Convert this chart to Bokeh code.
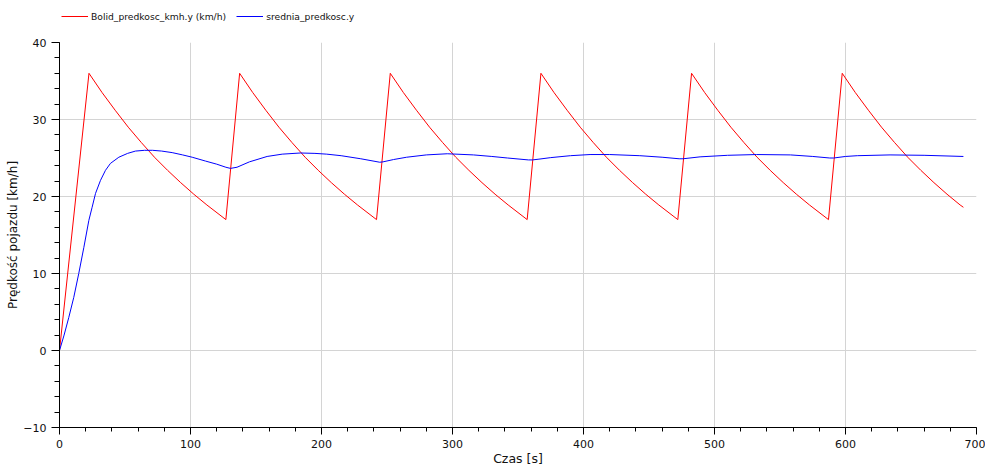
from bokeh.plotting import figure
from bokeh.layouts import column
from bokeh.models import Range1d, SingleIntervalTicker, Legend, LegendItem
from bokeh.embed import file_html
from bokeh.resources import INLINE

# Red series: Bolid_predkosc_kmh.y (km/h)
red_t = [0, 22.5, 32.5, 42.5, 52.5, 62.5, 72.5, 82.5, 92.5, 102.5, 112.5, 127.0,
         137.5, 147.5, 157.5, 167.5, 177.5, 187.5, 197.5, 207.5, 217.5, 227.5, 242.0,
         252.5, 262.5, 272.5, 282.5, 292.5, 302.5, 312.5, 322.5, 332.5, 342.5, 357.0,
         367.5, 377.5, 387.5, 397.5, 407.5, 417.5, 427.5, 437.5, 447.5, 457.5, 472.0,
         482.5, 492.5, 502.5, 512.5, 522.5, 532.5, 542.5, 552.5, 562.5, 572.5, 587.0,
         597.5, 607.5, 617.5, 627.5, 637.5, 647.5, 657.5, 667.5, 677.5, 687.5, 690.0]
red_v = [0, 36.0, 33.5, 31.2, 29.0, 27.0, 25.1, 23.4, 21.8, 20.3, 18.9, 17.0,
         36.0, 33.5, 31.2, 29.0, 27.0, 25.1, 23.4, 21.8, 20.3, 18.9, 17.0,
         36.0, 33.5, 31.2, 29.0, 27.0, 25.1, 23.4, 21.8, 20.3, 18.9, 17.0,
         36.0, 33.5, 31.2, 29.0, 27.0, 25.1, 23.4, 21.8, 20.3, 18.9, 17.0,
         36.0, 33.5, 31.2, 29.0, 27.0, 25.1, 23.4, 21.8, 20.3, 18.9, 17.0,
         36.0, 33.5, 31.2, 29.0, 27.0, 25.1, 23.4, 21.8, 20.3, 18.9, 18.6]

# Blue series: srednia_predkosc.y
blue_t = [0, 3.5, 7.1, 10.9, 14.7, 18.6, 22.4, 24.9, 27.5, 31.3, 35.1, 38.9, 45.3, 52, 58,
          65, 71, 78, 86, 94, 101.3, 111.5, 120, 127, 130.5, 135.5, 145, 158.5, 170, 184,
          195, 204, 215, 230, 244.5, 247, 255, 265, 280, 296, 316, 330, 342, 358, 361,
          366, 375, 390, 405, 420, 443, 460, 473, 476, 489, 510, 532, 558, 575, 588,
          591, 600, 609, 634, 660, 690]
blue_v = [0, 2.0, 4.3, 6.9, 10.0, 13.4, 16.9, 18.6, 20.4, 22.1, 23.4, 24.3, 25.1, 25.6, 25.9,
          26.0, 26.0, 25.9, 25.7, 25.4, 25.1, 24.6, 24.2, 23.8, 23.65, 23.8, 24.5, 25.2, 25.5, 25.65,
          25.6, 25.5, 25.3, 24.9, 24.45, 24.5, 24.8, 25.1, 25.4, 25.55, 25.4, 25.2, 25.0, 24.75, 24.75,
          24.85, 25.05, 25.3, 25.45, 25.45, 25.3, 25.1, 24.9, 24.9, 25.15, 25.35, 25.45, 25.4, 25.2, 25.0,
          25.0, 25.2, 25.3, 25.4, 25.35, 25.2]

legend_labels = ["Bolid_predkosc_kmh.y (km/h)", "srednia_predkosc.y"]
colors = ["#ff0000", "#0000ff"]
x_title = "Czas [s]"
y_title = "Prędkość pojazdu [km/h]"

FONT = "DejaVu Sans"
W = 985
HEADER_H = 26
MAIN_H = 442

# ---- header strip holding the legend (series drawn off-range, only legend shows) ----
hdr = figure(width=W, height=HEADER_H, output_backend="svg", toolbar_location=None,
             x_range=Range1d(5000, 5001), y_range=Range1d(5000, 5001), min_border=0,
             x_axis_location=None, y_axis_location=None)
hdr.grid.visible = False
hdr.outline_line_color = None
h1 = hdr.line(red_t, red_v, line_color=colors[0], line_width=1)
h2 = hdr.line(blue_t, blue_v, line_color=colors[1], line_width=1)
legend = Legend(items=[LegendItem(label=legend_labels[0], renderers=[h1]),
                       LegendItem(label=legend_labels[1], renderers=[h2])],
                orientation="horizontal", location=(2, 3),
                label_text_font=FONT, label_text_font_size="9.2px",
                label_text_color="#111111",
                glyph_width=27, glyph_height=14, label_height=14, label_standoff=3,
                spacing=10, padding=0, margin=0,
                border_line_color=None, background_fill_alpha=0)
hdr.add_layout(legend, "center")

# ---- main chart ----
p = figure(width=W, height=MAIN_H, output_backend="svg", toolbar_location=None,
           x_range=Range1d(0, 700), y_range=Range1d(-10, 40),
           min_border_left=59, min_border_right=9, min_border_top=16, min_border_bottom=41)
p.outline_line_color = None

r1 = p.line(red_t, red_v, line_color=colors[0], line_width=1)
r2 = p.line(blue_t, blue_v, line_color=colors[1], line_width=1)

for ax, interval, nminor in ((p.xaxis[0], 100, 5), (p.yaxis[0], 10, 5)):
    ax.ticker = SingleIntervalTicker(interval=interval, num_minor_ticks=nminor)
    ax.axis_line_color = "black"
    ax.axis_line_width = 1
    ax.major_tick_line_color = "black"
    ax.minor_tick_line_color = "black"
    ax.major_tick_line_width = 1
    ax.minor_tick_line_width = 1
    ax.major_tick_in = 0
    ax.minor_tick_in = 0
    ax.major_label_text_font = FONT
    ax.major_label_text_font_size = "11px"
    ax.major_label_text_color = "#111111"
    ax.axis_label_text_font = FONT
    ax.axis_label_text_font_style = "normal"
    ax.axis_label_text_color = "#111111"

p.xaxis.major_tick_out = 7
p.xaxis.minor_tick_out = 4
p.xaxis.major_label_standoff = 5
p.xaxis.axis_label = x_title
p.xaxis.axis_label_text_font_size = "12.5px"
p.xaxis.axis_label_standoff = 0

p.yaxis.major_tick_out = 8
p.yaxis.minor_tick_out = 5
p.yaxis.major_label_standoff = 5
p.yaxis.axis_label = y_title
p.yaxis.axis_label_text_font_size = "12px"
p.yaxis.axis_label_standoff = 0

p.xgrid.grid_line_color = "#d4d4d4"
p.ygrid.grid_line_color = "#d4d4d4"
p.xgrid.ticker = SingleIntervalTicker(interval=100)
p.ygrid.ticker = SingleIntervalTicker(interval=10)

layout = column(hdr, p, spacing=0)
open("out.html", "w").write(file_html(layout, INLINE))
